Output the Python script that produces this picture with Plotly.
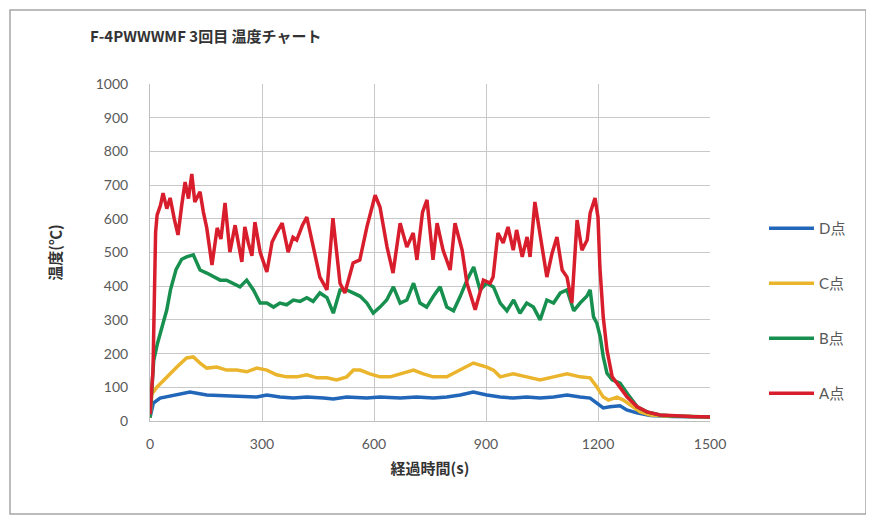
import plotly.graph_objects as go

# ---- data ----
t_A = [0, 8, 15, 19, 28, 35, 45, 54, 65, 75, 85, 94, 103, 112, 120, 134, 143, 152, 166, 180,
       190, 201, 214, 228, 246, 254, 263, 273, 281, 295, 313, 327, 340, 354, 370, 383, 393, 408,
       420, 437, 455, 474, 490, 509, 522, 544, 562, 581, 603, 616, 635, 651, 670, 688, 705, 715,
       730, 742, 758, 769, 785, 804, 817, 836, 849, 871, 893, 911, 919, 932, 946, 959, 973, 982,
       997, 1010, 1018, 1031, 1045, 1063, 1077, 1090, 1104, 1117, 1130, 1144, 1157, 1171, 1179,
       1192, 1200, 1205, 1214, 1224, 1238, 1259, 1278, 1305, 1331, 1366, 1400, 1450, 1500]
A = [20, 150, 560, 611, 640, 676, 630, 662, 600, 552, 640, 709, 660, 733, 650, 680, 620, 573,
     463, 573, 540, 647, 501, 581, 472, 576, 530, 490, 590, 501, 442, 531, 560, 587, 501, 545,
     537, 580, 605, 516, 427, 389, 602, 409, 380, 469, 478, 576, 670, 635, 516, 439, 587, 516,
     558, 478, 620, 656, 478, 587, 507, 448, 587, 507, 409, 330, 418, 409, 427, 558, 528, 576,
     507, 567, 487, 546, 487, 650, 558, 427, 498, 546, 448, 427, 350, 596, 507, 537, 617, 662,
     605, 457, 309, 211, 131, 101, 71, 42, 27, 18, 15, 13, 12]

t_B = [0, 5, 10, 20, 35, 45, 55, 70, 85, 98, 116, 125, 134, 152, 170, 188, 205, 223, 241, 259,
       277, 295, 313, 331, 348, 366, 384, 402, 420, 437, 455, 474, 491, 509, 527, 544, 563, 581,
       598, 616, 634, 652, 670, 688, 706, 723, 741, 759, 777, 795, 813, 831, 849, 867, 884, 902,
       920, 938, 956, 974, 991, 1009, 1027, 1045, 1063, 1081, 1099, 1117, 1135, 1152, 1170, 1179,
       1188, 1197, 1206, 1214, 1224, 1238, 1259, 1278, 1305, 1331, 1366, 1400, 1450, 1500]
B = [10, 120, 180, 230, 290, 330, 390, 450, 480, 487, 493, 470, 448, 439, 427, 418, 418, 409,
     398, 418, 389, 350, 350, 338, 350, 345, 359, 355, 366, 355, 380, 366, 320, 389, 389, 380,
     370, 350, 320, 338, 359, 398, 350, 359, 409, 350, 338, 370, 398, 338, 327, 370, 418, 457,
     389, 409, 398, 350, 327, 359, 320, 350, 338, 300, 359, 350, 380, 389, 327, 350, 370, 389,
     309, 290, 250, 191, 142, 122, 112, 82, 42, 27, 18, 15, 13, 12]

t_C = [0, 5, 19, 45, 72, 98, 116, 134, 152, 179, 205, 232, 259, 286, 313, 339, 366, 393, 420,
       447, 474, 500, 527, 545, 563, 589, 616, 643, 670, 706, 732, 759, 795, 831, 866, 902, 920,
       938, 973, 1009, 1045, 1081, 1117, 1152, 1179, 1197, 1214, 1228, 1251, 1268, 1295, 1313,
       1340, 1380, 1450, 1500]
C = [10, 80, 101, 131, 160, 187, 190, 172, 157, 160, 151, 151, 146, 157, 151, 137, 131, 131,
     137, 128, 128, 122, 131, 151, 151, 140, 131, 131, 140, 151, 140, 131, 131, 151, 172, 160,
     151, 131, 140, 131, 122, 131, 140, 131, 128, 101, 71, 62, 71, 62, 42, 27, 18, 15, 13, 12]

t_D = [0, 9, 27, 62, 107, 152, 196, 241, 286, 313, 348, 384, 420, 465, 491, 527, 581, 616, 670,
       714, 759, 795, 831, 866, 902, 938, 973, 1009, 1045, 1081, 1117, 1152, 1179, 1197, 1214,
       1232, 1259, 1277, 1304, 1340, 1400, 1500]
D = [10, 53, 68, 77, 86, 77, 75, 71, 71, 77, 71, 68, 71, 68, 65, 71, 68, 71, 68, 71, 68, 71,
     77, 86, 77, 71, 68, 71, 68, 71, 77, 71, 68, 53, 39, 42, 45, 33, 24, 16, 13, 12]

names = ["D点", "C点", "B点", "A点"]
colors = ["#2166b8", "#eab52c", "#17904f", "#d81e2c"]
x_ticks = [0, 300, 600, 900, 1200, 1500]
y_ticks = [0, 100, 200, 300, 400, 500, 600, 700, 800, 900, 1000]
title_text = "F-4PWWWMF 3回目 温度チャート"
x_title = "経過時間(s)"
y_title = "温度(℃)"

FONT = "Lato, Noto Sans CJK JP, sans-serif"

fig = go.Figure()
for nm, col, tx, ty in zip(names, colors, [t_D, t_C, t_B, t_A], [D, C, B, A]):
    fig.add_trace(go.Scatter(x=tx, y=ty, mode="lines", name=nm, legendgroup=nm,
                             line=dict(color=col, width=3.5)))

# page is rendered with an 8px body margin, so figure px = page px - 8
OFF = 8
W, H = 874, 521
PL, PR, PT, PB = 150, 710, 84, 421          # plot area in page pixels
L, T = PL - OFF, PT - OFF
pw, ph = PR - PL, PB - PT
R = W - L - pw
Bm = H - T - ph

def px_x(p):
    return (p - PL) / pw

def px_y(p):
    return (PB - p) / ph

fig.update_layout(
    width=W, height=H,
    margin=dict(l=L, r=R, t=T, b=Bm),
    paper_bgcolor="white", plot_bgcolor="white",
    font=dict(family=FONT, size=14, color="#595959"),
    title=dict(text=title_text, x=(90 - OFF) / W, xanchor="left", y=1 - (37 - OFF) / H,
               yanchor="middle",
               font=dict(family="Noto Sans CJK JP", size=15, color="#333333", weight="bold")),
    showlegend=True,
    legend=dict(x=px_x(764), xanchor="left", y=px_y(212), yanchor="top",
                traceorder="grouped", tracegroupgap=32.5, itemwidth=45,
                font=dict(family=FONT, size=15, color="#595959"),
                bgcolor="rgba(0,0,0,0)"),
    xaxis=dict(range=[0, 1500], tickvals=x_ticks, showgrid=True, gridcolor="#c8c8c8",
               gridwidth=1, zeroline=False, showline=True, linecolor="#bfbfbf",
               ticks="", ticklabelstandoff=10,
               title=dict(text=x_title, standoff=12,
                          font=dict(family="Noto Sans CJK JP", size=15, color="#333333",
                                    weight="bold"))),
    yaxis=dict(range=[0, 1000], tickvals=y_ticks, showgrid=True, gridcolor="#c8c8c8",
               gridwidth=1, zeroline=False, showline=True, linecolor="#bfbfbf",
               ticks="", ticklabelstandoff=18,
               title=dict(text=y_title, standoff=30,
                          font=dict(family="Noto Sans CJK JP", size=15, color="#333333",
                                    weight="bold"))),
)

# outer chart border (kept inside the figure canvas)
fig.add_shape(type="rect", xref="paper", yref="paper",
              x0=px_x(10), x1=px_x(866), y0=px_y(514), y1=px_y(10),
              line=dict(color="#a6a6a6", width=1.5), fillcolor="rgba(0,0,0,0)", layer="below")

fig.write_html("out.html")
